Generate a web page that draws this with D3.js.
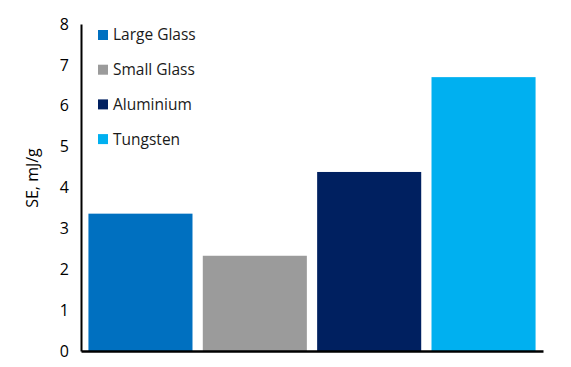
<!DOCTYPE html>
<html><head><meta charset="utf-8">
<script src="https://cdn.jsdelivr.net/npm/d3@7"></script>
<style>body{margin:0;background:#fff}svg{display:block}text{font-family:"Open Sans","Liberation Sans",sans-serif}</style>
</head><body>
<svg id="c" width="571" height="367"></svg>
<script>
const categories = ["Large Glass", "Small Glass", "Aluminium", "Tungsten"];
const values = [3.36, 2.33, 4.38, 6.70];
const colors = ["#0070C0", "#9B9B9B", "#002060", "#00B0F0"];
const yTicks = [0, 1, 2, 3, 4, 5, 6, 7, 8];

const svg = d3.select("#c");
const x = d3.scaleBand().domain(categories).range([81, 543]).paddingInner(0.09).paddingOuter(0.065);
const y = d3.scaleLinear().domain([0, 8]).range([351, 24]);

svg.selectAll("rect.bar").data(categories).join("rect")
  .attr("class", "bar")
  .attr("x", d => x(d))
  .attr("width", x.bandwidth())
  .attr("y", (d, i) => y(values[i]))
  .attr("height", (d, i) => y(0) - y(values[i]))
  .attr("fill", (d, i) => colors[i]);

const yAxis = svg.append("g").attr("transform", "translate(81,0)")
  .call(d3.axisLeft(y).tickValues(yTicks).tickSize(0).tickPadding(12).tickFormat(d3.format("d")));
yAxis.select(".domain").attr("stroke", "#000").attr("stroke-width", 2);
yAxis.selectAll("text").attr("font-size", 16).attr("fill", "#000")
  .style("font-family", '"Open Sans","Liberation Sans",sans-serif');

const xAxis = svg.append("g").attr("transform", "translate(0,351)")
  .call(d3.axisBottom(x).tickSize(0).tickFormat(""));
xAxis.select(".domain").attr("stroke", "#000").attr("stroke-width", 2.5);

svg.append("text").attr("transform", "translate(38,178) rotate(-90)")
  .attr("text-anchor", "middle").attr("font-size", 16).attr("fill", "#000").text("SE, mJ/g");

const leg = svg.append("g");
categories.forEach((c, i) => {
  const yy = 35 + i * 34.7;
  leg.append("rect").attr("x", 98).attr("y", yy - 5).attr("width", 10).attr("height", 10).attr("fill", colors[i]);
  leg.append("text").attr("x", 113).attr("y", yy).attr("dy", "0.35em").attr("font-size", 15.5).attr("fill", "#1a1a1a").text(c);
});
</script>
</body></html>
